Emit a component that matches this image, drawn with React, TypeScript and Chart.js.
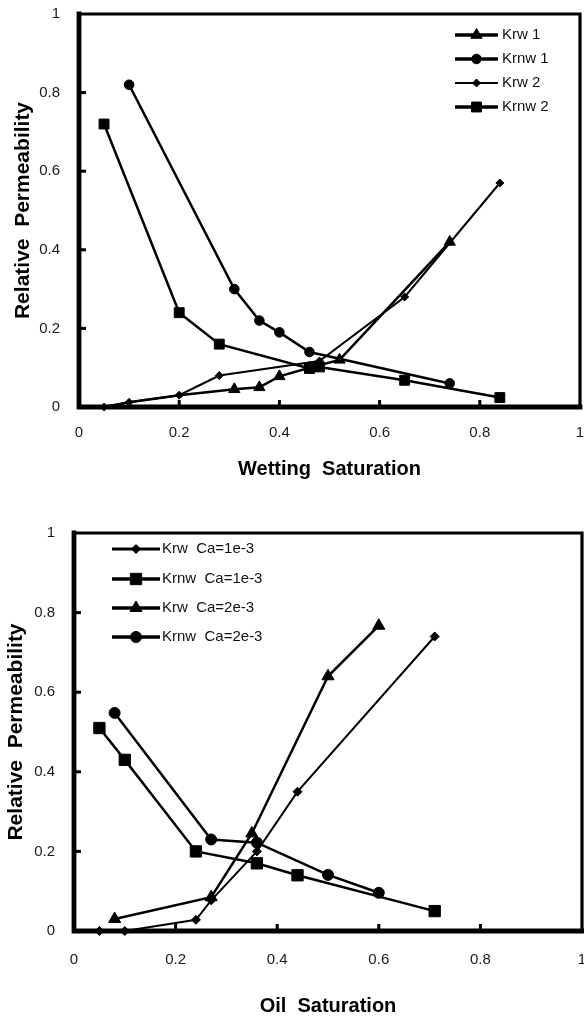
import React, { useEffect, useRef } from "react";
import { Chart, registerables } from "chart.js";
import { drawPoint } from "chart.js/helpers";

Chart.register(...registerables);

// ---------- shared axis ticks ----------
const xTickValues = [0, 0.2, 0.4, 0.6, 0.8, 1];
const yTickValues = [0, 0.2, 0.4, 0.6, 0.8, 1];

// ---------- top chart: Wetting Saturation ----------
const krw1X = [0.05, 0.1, 0.2, 0.31, 0.36, 0.4, 0.46, 0.52, 0.74];
const krw1Y = [0, 0.012, 0.03, 0.045, 0.05, 0.078, 0.1, 0.12, 0.42];
const krnw1X = [0.1, 0.31, 0.36, 0.4, 0.46, 0.74];
const krnw1Y = [0.82, 0.3, 0.22, 0.19, 0.14, 0.06];
const krw2X = [0.05, 0.1, 0.2, 0.28, 0.48, 0.65, 0.84];
const krw2Y = [0, 0.012, 0.03, 0.08, 0.117, 0.28, 0.57];
const krnw2X = [0.05, 0.2, 0.28, 0.46, 0.48, 0.65, 0.84];
const krnw2Y = [0.72, 0.24, 0.16, 0.098, 0.102, 0.068, 0.024];
const topLabels = ["Krw 1", "Krnw 1", "Krw 2", "Krnw 2"];

// ---------- bottom chart: Oil Saturation ----------
const krwAX = [0.05, 0.1, 0.24, 0.27, 0.36, 0.44, 0.71];
const krwAY = [0, 0, 0.028, 0.077, 0.2, 0.35, 0.74];
const krnwAX = [0.05, 0.1, 0.24, 0.36, 0.44, 0.71];
const krnwAY = [0.51, 0.43, 0.2, 0.17, 0.14, 0.05];
const krwBX = [0.08, 0.27, 0.35, 0.5, 0.6];
const krwBY = [0.03, 0.085, 0.245, 0.64, 0.767];
const krnwBX = [0.08, 0.27, 0.36, 0.5, 0.6];
const krnwBY = [0.548, 0.23, 0.222, 0.141, 0.096];
const bottomLabels = ["Krw  Ca=1e-3", "Krnw  Ca=1e-3", "Krw  Ca=2e-3", "Krnw  Ca=2e-3"];

const FONT = "'Liberation Sans', Arial, sans-serif";

const zip = (xs: number[], ys: number[]) => xs.map((x, i) => ({ x, y: ys[i] }));

const framePlugin = {
  id: "frame",
  beforeDatasetsDraw(chart: any) {
    const { ctx, chartArea } = chart;
    const { left, right, top, bottom } = chartArea;
    const xs = chart.scales.x;
    const ys = chart.scales.y;
    ctx.save();
    ctx.strokeStyle = "#000";
    ctx.lineCap = "square";
    ctx.lineWidth = 3.2;
    ctx.beginPath();
    ctx.moveTo(left, top);
    ctx.lineTo(right, top);
    ctx.lineTo(right, bottom);
    ctx.stroke();
    ctx.lineWidth = 4.8;
    ctx.beginPath();
    ctx.moveTo(left, top);
    ctx.lineTo(left, bottom);
    ctx.lineTo(right, bottom);
    ctx.stroke();
    ctx.lineCap = "butt";
    ctx.lineWidth = 3;
    xTickValues.slice(1, -1).forEach((v) => {
      const px = xs.getPixelForValue(v);
      ctx.beginPath();
      ctx.moveTo(px, bottom);
      ctx.lineTo(px, bottom - 7);
      ctx.stroke();
    });
    yTickValues.slice(1, -1).forEach((v) => {
      const py = ys.getPixelForValue(v);
      ctx.beginPath();
      ctx.moveTo(left, py);
      ctx.lineTo(left + 7, py);
      ctx.stroke();
    });
    ctx.restore();
  },
};

const lineLegendPlugin = {
  id: "lineLegend",
  afterDraw(chart: any, _args: any, opts: any) {
    if (!opts || !opts.rows) return;
    const { ctx } = chart;
    ctx.save();
    chart.data.datasets.forEach((ds: any, i: number) => {
      const y = opts.rows[i];
      ctx.strokeStyle = "#000";
      ctx.fillStyle = "#000";
      ctx.lineWidth = opts.lineWidths[i];
      ctx.beginPath();
      ctx.moveTo(opts.x0, y);
      ctx.lineTo(opts.x1, y);
      ctx.stroke();
      ctx.lineWidth = 1;
      drawPoint(
        ctx,
        { pointStyle: ds.pointStyle, radius: ds.legendRadius, rotation: 0, borderWidth: 1 },
        (opts.x0 + opts.x1) / 2,
        y
      );
      ctx.fillStyle = "#111";
      ctx.font = `${opts.fontSize}px ${FONT}`;
      ctx.textBaseline = "middle";
      ctx.textAlign = "left";
      ctx.fillText(ds.label, opts.textX, y);
    });
    ctx.restore();
  },
};

function makeDataset(label: string, data: any[], pointStyle: string, radius: number, width: number, hiddenX: number[] = []) {
  // markers that sit exactly under another series' markers are not drawn
  const radii = data.map((p: any) => (hiddenX.indexOf(p.x) >= 0 ? 0 : radius));
  return {
    label,
    data,
    pointStyle,
    pointRadius: radii,
    pointHoverRadius: radii,
    legendRadius: radius,
    pointBorderWidth: 1,
    borderColor: "#000",
    backgroundColor: "#000",
    pointBackgroundColor: "#000",
    pointBorderColor: "#000",
    borderWidth: width,
    tension: 0,
    fill: false,
    clip: false,
  };
}

function makeOptions(cfg: any) {
  return {
    responsive: false,
    devicePixelRatio: 1,
    animation: false,
    events: [],
    layout: { padding: cfg.padding, autoPadding: false },
    plugins: {
      legend: { display: false },
      title: { display: false },
      tooltip: { enabled: false },
      lineLegend: cfg.legend,
    },
    scales: {
      x: {
        type: "linear",
        min: 0,
        max: 1,
        afterBuildTicks: (s: any) => {
          s.ticks = xTickValues.map((v) => ({ value: v }));
        },
        afterFit: (s: any) => {
          s.height = cfg.xHeight;
          s.paddingLeft = 0;
          s.paddingRight = 0;
        },
        grid: { display: false, drawTicks: false },
        border: { display: false },
        ticks: {
          autoSkip: false,
          maxRotation: 0,
          padding: cfg.xTickPad,
          color: "#1a1a1a",
          font: { family: FONT, size: 15 },
          callback: (v: any) => String(v),
        },
        title: {
          display: true,
          text: cfg.xTitle,
          color: "#000",
          font: { family: FONT, size: 20, weight: "bold" },
          padding: { top: 0, bottom: cfg.xTitlePad },
        },
      },
      y: {
        type: "linear",
        min: 0,
        max: 1,
        afterBuildTicks: (s: any) => {
          s.ticks = yTickValues.map((v) => ({ value: v }));
        },
        afterFit: (s: any) => {
          s.width = cfg.yWidth;
          s.paddingTop = 0;
          s.paddingBottom = 0;
        },
        grid: { display: false, drawTicks: false },
        border: { display: false },
        ticks: {
          autoSkip: false,
          padding: 19,
          color: "#1a1a1a",
          font: { family: FONT, size: 15 },
          callback: (v: any) => String(v),
        },
        title: {
          display: true,
          text: "Relative  Permeability",
          color: "#000",
          font: { family: FONT, size: 21, weight: "bold" },
          padding: { top: cfg.yTitlePad, bottom: 0 },
        },
      },
    },
  };
}

function TopChart() {
  const ref = useRef<HTMLCanvasElement>(null);
  useEffect(() => {
    const chart = new Chart(ref.current as HTMLCanvasElement, {
      type: "line",
      data: {
        datasets: [
          makeDataset(topLabels[0], zip(krw1X, krw1Y), "triangle", 6.5, 2.5, krw2X),
          makeDataset(topLabels[1], zip(krnw1X, krnw1Y), "circle", 4.8, 2.5),
          makeDataset(topLabels[2], zip(krw2X, krw2Y), "rectRot", 4, 2),
          makeDataset(topLabels[3], zip(krnw2X, krnw2Y), "rect", 7, 2.5),
        ] as any,
      },
      options: makeOptions({
        padding: { top: 14, right: 4, bottom: 0, left: 0 },
        xHeight: 103,
        yWidth: 79,
        xTickPad: 17,
        xTitle: "Wetting  Saturation",
        xTitlePad: 29,
        yTitlePad: 10.5,
        legend: { x0: 455, x1: 498, textX: 502, rows: [35, 59, 83, 107], lineWidths: [3.3, 3.3, 2.2, 3.3], fontSize: 15 },
      }) as any,
      plugins: [framePlugin, lineLegendPlugin],
    });
    return () => chart.destroy();
  }, []);
  return <canvas ref={ref} width={584} height={510} style={{ position: "absolute", left: 0, top: 0, width: 584, height: 510 }} />;
}

function BottomChart() {
  const ref = useRef<HTMLCanvasElement>(null);
  useEffect(() => {
    const chart = new Chart(ref.current as HTMLCanvasElement, {
      type: "line",
      data: {
        datasets: [
          makeDataset(bottomLabels[0], zip(krwAX, krwAY), "rectRot", 4.5, 2),
          makeDataset(bottomLabels[1], zip(krnwAX, krnwAY), "rect", 8, 2.5),
          makeDataset(bottomLabels[2], zip(krwBX, krwBY), "triangle", 7, 2.5),
          makeDataset(bottomLabels[3], zip(krnwBX, krnwBY), "circle", 5.5, 2.5),
        ] as any,
      },
      options: makeOptions({
        padding: { top: 23, right: 2, bottom: 0, left: 0 },
        xHeight: 88,
        yWidth: 74,
        xTickPad: 20,
        xTitle: "Oil  Saturation",
        xTitlePad: 1,
        yTitlePad: 4,
        legend: { x0: 112, x1: 160, textX: 162, rows: [39, 69, 98, 127], lineWidths: [3, 3.3, 3.3, 3.3], fontSize: 15 },
      }) as any,
      plugins: [framePlugin, lineLegendPlugin],
    });
    return () => chart.destroy();
  }, []);
  return <canvas ref={ref} width={584} height={509} style={{ position: "absolute", left: 0, top: 510, width: 584, height: 509 }} />;
}

export default function App() {
  return (
    <div style={{ position: "absolute", left: 0, top: 0, width: 584, height: 1019, background: "#fff", overflow: "hidden" }}>
      <TopChart />
      <BottomChart />
    </div>
  );
}
